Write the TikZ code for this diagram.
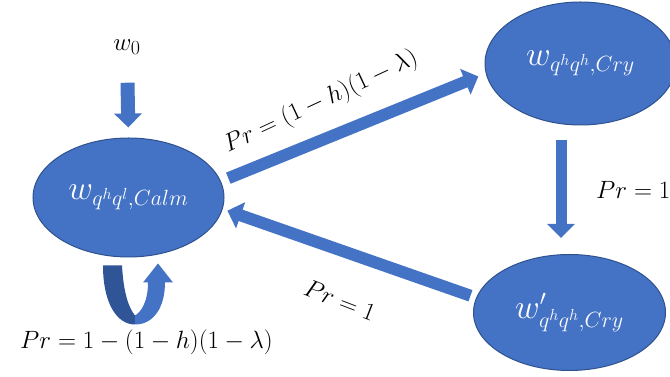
\RequirePackage{fix-cm}
\documentclass[tikz,border=0pt]{standalone}
\usepackage{amsmath}
\usepackage{tikz}
\usetikzlibrary{shapes.geometric, arrows.meta, positioning, calc}
\definecolor{stateFill}{HTML}{4472C4}
\definecolor{stateEdge}{HTML}{2F528F}
\definecolor{loopBack}{HTML}{2F5597}
\DeclareMathSizes{34}{34}{22}{16}
\DeclareMathSizes{25}{25}{20}{15}

\begin{document}
\begin{tikzpicture}[
    x=1pt, y=1pt,
    state/.style={ellipse, draw=stateEdge, fill=stateFill, line width=1pt,
                  text=white, inner sep=0pt, font=\fontsize{34}{40}\selectfont},
    lbl/.style={font=\fontsize{25}{30}\selectfont, inner sep=0pt},
    blockarrow/.style={-{Triangle[length=14pt, width=27pt]}, line width=12pt,
                       draw=stateFill},
]
\useasboundingbox (0,0) rectangle (670,377);
\clip (0,0) rectangle (670,377);

% States
\node[state, minimum width=191pt, minimum height=119pt] (calm) at (128.5,179.5)
    {$w_{q^hq^l,Calm}$};
\node[state, minimum width=191pt, minimum height=123pt] (cry) at (580.5,313.5)
    {$w_{q^hq^h,Cry}$};
\node[state, minimum width=192pt, minimum height=116pt] (cryp) at (569.5,64.5)
    {$w'_{q^hq^h,Cry}$};
\node[lbl] (w0) at (127,330) {$w_0$};

% Transitions
\draw[blockarrow, line width=14pt, shorten <=28pt, shorten >=10pt] (w0.south) -- (calm.north);
\draw[blockarrow, shorten <=8pt, shorten >=8pt] (calm.10) -- (cry.186);
\draw[blockarrow, line width=11pt, shorten <=15pt, shorten >=16pt]
    ([xshift=-19.5pt]cry.south) -- ([xshift=-8.5pt]cryp.north);
\draw[blockarrow, shorten <=6pt, shorten >=5pt] (cryp.171) -- (calm.353);

% Self loop
\begin{scope}[shift={(calm.south)}]
\fill[loopBack] (-25.5,-8) -- (-6.5,-8) .. controls (-5,-35) and (0,-50) .. (6.5,-58)
    -- (6.5,-67) .. controls (-12,-67) and (-25.5,-45) .. cycle;
\fill[stateFill] (6.5,-67) .. controls (25,-67) and (36.5,-50) .. (36.5,-25)
    -- (44.5,-25) -- (29.5,-6) -- (14.5,-25) -- (19.5,-25)
    .. controls (19.5,-45) and (12,-55) .. (6.5,-58) -- cycle;
\end{scope}

% Labels
\node[lbl, rotate=25] (pup) at (321,275) {$Pr = (1-h)(1-\lambda)$};
\node[lbl, rotate=-21] (pdown) at (340,77) {$Pr = 1$};
\node[lbl, anchor=west] (pright) at (596,187) {$Pr = 1$};
\node[lbl] (ploop) at (146.5,35) {$Pr = 1-(1-h)(1-\lambda)$};
\end{tikzpicture}
\end{document}
